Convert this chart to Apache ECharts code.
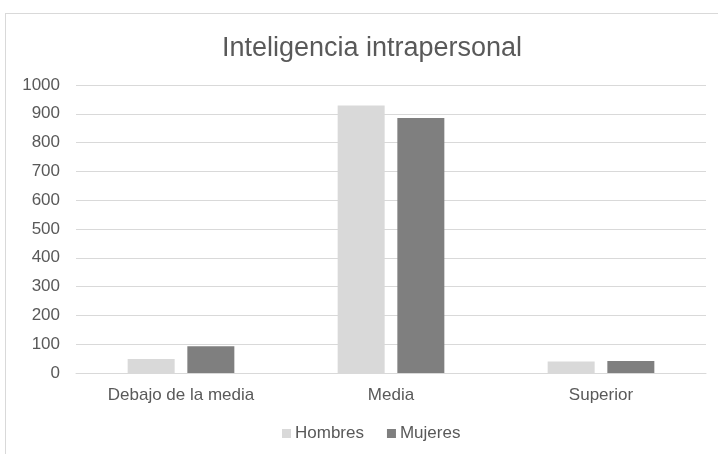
<!DOCTYPE html>
<html>
<head>
<meta charset="utf-8">
<script src="https://cdn.jsdelivr.net/npm/echarts@6/dist/echarts.min.js"></script>
<style>
  html, body { margin: 0; padding: 0; background: #fff; }
  #frame { position: absolute; left: 5px; top: 13px; width: 720px; height: 460px; border: 1px solid #d9d9d9; box-sizing: border-box; }
  #chart { position: absolute; left: 0; top: 0; width: 718px; height: 454px; }
</style>
</head>
<body>
<div id="frame"></div>
<div id="chart"></div>
<script>
// Categories and counts per group
const categories = ['Debajo de la media', 'Media', 'Superior'];
const hombres = [49, 929, 40];
const mujeres = [93, 885, 42];
const yTicks = { min: 0, max: 1000, interval: 100 };

const font = 'Liberation Sans, Arial, sans-serif';
const chart = echarts.init(document.getElementById('chart'), null, { renderer: 'canvas' });
chart.setOption({
  animation: false,
  textStyle: { fontFamily: font },
  title: {
    text: 'Inteligencia intrapersonal',
    left: 367, top: 30, textAlign: 'center',
    textStyle: { fontFamily: font, fontSize: 27, fontWeight: 'normal', color: '#595959' }
  },
  legend: {
    top: 420, left: 277,
    itemWidth: 9, itemHeight: 9, itemGap: 23,
    icon: 'rect',
    textStyle: { fontFamily: font, fontSize: 17, color: '#595959', padding: [0, 0, 0, -1] },
    data: ['Hombres', 'Mujeres']
  },
  grid: { left: 76, right: 12, top: 85, bottom: 81 },
  xAxis: {
    type: 'category',
    data: categories,
    axisLine: { lineStyle: { color: '#d9d9d9' } },
    axisTick: { show: false },
    axisLabel: { fontFamily: font, fontSize: 17, color: '#595959', margin: 14 }
  },
  yAxis: {
    type: 'value',
    min: yTicks.min, max: yTicks.max, interval: yTicks.interval,
    axisLine: { show: false },
    axisTick: { show: false },
    splitLine: { lineStyle: { color: '#d9d9d9' } },
    axisLabel: { fontFamily: font, fontSize: 17, color: '#595959', margin: 16,
                 formatter: (v) => String(v) }
  },
  series: [
    { name: 'Hombres', type: 'bar', data: hombres, barWidth: 47, barGap: '27%',
      itemStyle: { color: '#d9d9d9' } },
    { name: 'Mujeres', type: 'bar', data: mujeres, barWidth: 47,
      itemStyle: { color: '#7f7f7f' } }
  ]
});
</script>
</body>
</html>
